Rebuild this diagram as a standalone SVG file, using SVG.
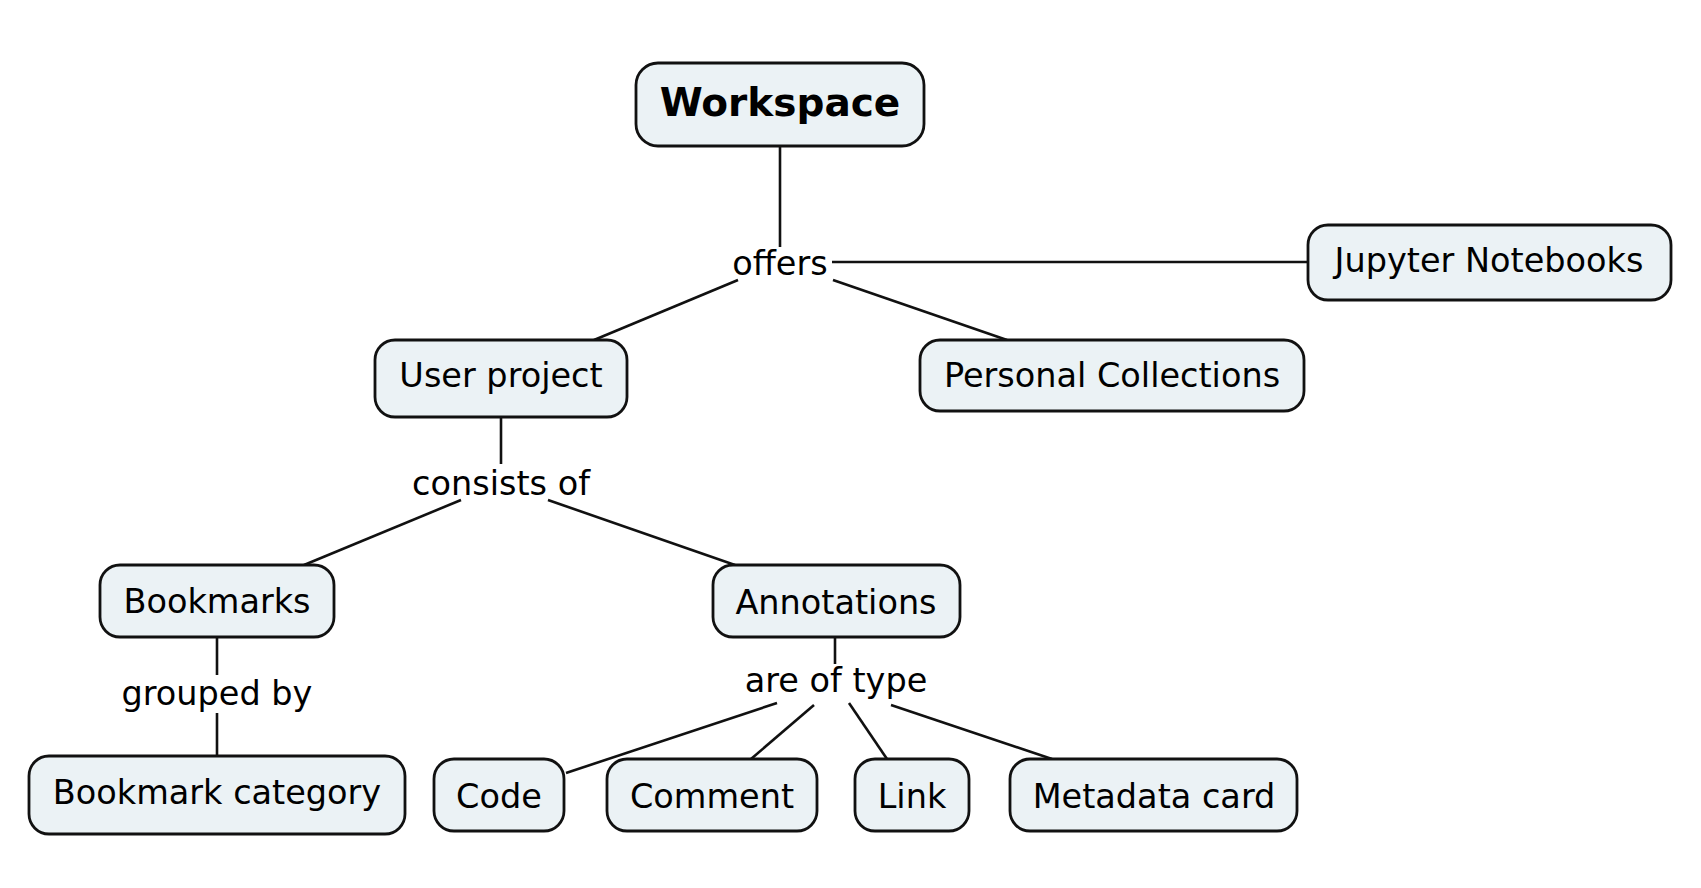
<svg xmlns="http://www.w3.org/2000/svg" width="1701" height="888" viewBox="0 0 1701 888">
<style>
.box{fill:#ebf2f5;stroke:#111;stroke-width:2.8}
.t{font-family:"DejaVu Sans",Verdana,sans-serif;font-size:33.5px;fill:#000;text-anchor:middle}
.b{font-weight:bold;font-size:39px}
.c{stroke:#111;stroke-width:2.6;fill:none}
</style>
<rect width="1701" height="888" fill="#fff"/>
<g id="connectors">
<path class="c" d="M780 146V247"/>
<path class="c" d="M832 262H1309"/>
<path class="c" d="M738 280L594 340"/>
<path class="c" d="M833 280L1007 340"/>
<path class="c" d="M501 417V464"/>
<path class="c" d="M461 500L304 565"/>
<path class="c" d="M548 500L735 565"/>
<path class="c" d="M217 637V675M217 713V756"/>
<path class="c" d="M835 637V664"/>
<path class="c" d="M777 703L566 773"/>
<path class="c" d="M814 705L751 759"/>
<path class="c" d="M849 703L887 759"/>
<path class="c" d="M891 705L1052 759"/>
<text class="t" x="780" y="275">offers</text>
<text class="t" x="501" y="495">consists of</text>
<text class="t" x="217" y="705">grouped by</text>
<text class="t" x="836" y="692">are of type</text>
</g>
<g id="workspace"><rect class="box" x="636" y="63" width="288" height="83" rx="22"/><text class="t b" x="780" y="116">Workspace</text></g>
<g id="jupyter"><rect class="box" x="1308" y="225" width="363" height="75" rx="20"/><text class="t" x="1489" y="272">Jupyter Notebooks</text></g>
<g id="userproject"><rect class="box" x="375" y="340" width="252" height="77" rx="20"/><text class="t" x="501" y="387">User project</text></g>
<g id="personal"><rect class="box" x="920" y="340" width="384" height="71" rx="20"/><text class="t" x="1112" y="387">Personal Collections</text></g>
<g id="bookmarks"><rect class="box" x="100" y="565" width="234" height="72" rx="20"/><text class="t" x="217" y="613">Bookmarks</text></g>
<g id="annotations"><rect class="box" x="713" y="565" width="247" height="72" rx="20"/><text class="t" x="836" y="614">Annotations</text></g>
<g id="bookmarkcategory"><rect class="box" x="29" y="756" width="376" height="78" rx="20"/><text class="t" x="217" y="804">Bookmark category</text></g>
<g id="code"><rect class="box" x="434" y="759" width="130" height="72" rx="20"/><text class="t" x="499" y="808">Code</text></g>
<g id="comment"><rect class="box" x="607" y="759" width="210" height="72" rx="20"/><text class="t" x="712" y="808">Comment</text></g>
<g id="link"><rect class="box" x="855" y="759" width="114" height="72" rx="20"/><text class="t" x="912" y="808">Link</text></g>
<g id="metadata"><rect class="box" x="1010" y="759" width="287" height="72" rx="20"/><text class="t" x="1154" y="808">Metadata card</text></g>
</svg>
